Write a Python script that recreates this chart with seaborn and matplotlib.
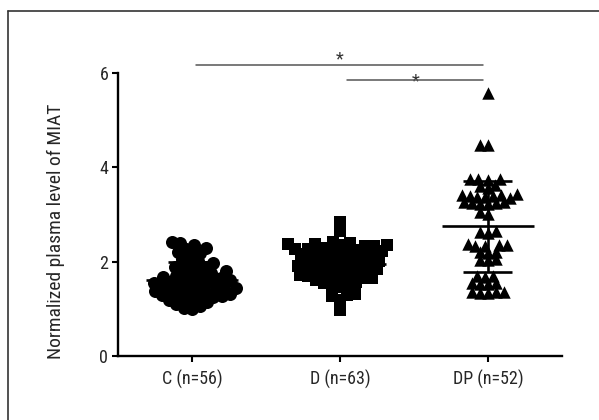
import numpy as np
import pandas as pd
import matplotlib
matplotlib.use("Agg")
import matplotlib.pyplot as plt
from matplotlib import font_manager
from matplotlib.lines import Line2D
import seaborn as sns

# ---- values ----
groups = ["C (n=56)", "D (n=63)", "DP (n=52)"]
markers = ["o", "s", "^"]

c_vals = [2.40, 2.36, 2.41,
          2.30, 2.28,
          2.20, 2.18, 2.15,
          2.05, 2.02, 1.98, 1.96,
          1.90, 1.88, 1.85, 1.83, 1.80,
          1.76, 1.74, 1.72, 1.70, 1.68, 1.66, 1.64,
          1.62, 1.60, 1.58, 1.57, 1.56, 1.54, 1.52, 1.50,
          1.48, 1.47, 1.46, 1.44, 1.42, 1.40, 1.39, 1.38, 1.36, 1.34,
          1.32, 1.30, 1.29, 1.28, 1.26, 1.24, 1.22,
          1.20, 1.17, 1.14, 1.11,
          1.07, 1.03, 1.00]

d_vals = [2.85, 2.65,
          2.42, 2.38, 2.36, 2.34, 2.40, 2.33, 2.37, 2.35,
          2.30, 2.27, 2.25, 2.22, 2.28, 2.24, 2.26, 2.21,
          2.18, 2.15, 2.12, 2.10, 2.08, 2.14, 2.11, 2.16, 2.06,
          2.02, 2.00, 1.98, 1.95, 1.92, 1.97, 1.94, 1.99, 1.90,
          1.88, 1.85, 1.82, 1.80, 1.78, 1.83, 1.86, 1.81, 1.76,
          1.72, 1.70, 1.68, 1.65, 1.62, 1.66, 1.69, 1.63,
          1.58, 1.55, 1.52, 1.50, 1.47,
          1.32, 1.30, 1.27,
          1.20,
          0.98]

dp_vals = [5.57,
           4.48, 4.47,
           3.76, 3.75, 3.74, 3.76,
           3.63, 3.60, 3.57,
           3.42, 3.40, 3.38, 3.41, 3.39, 3.37, 3.43, 3.36,
           3.26, 3.24, 3.22, 3.25, 3.23, 3.27,
           3.05, 3.02,
           2.65, 2.62, 2.64,
           2.36, 2.34, 2.35, 2.33, 2.37,
           2.21, 2.19, 2.20,
           2.05, 2.03, 2.04,
           1.70, 1.68, 1.69,
           1.56, 1.54, 1.55, 1.53,
           1.35, 1.34, 1.36, 1.33, 1.35]

# significance brackets: (from, to, y of line)
sig_pairs = [(0.03, 1.97, 6.17), (1.05, 1.97, 5.85)]

df = pd.DataFrame({
    "group": [groups[0]] * len(c_vals) + [groups[1]] * len(d_vals) + [groups[2]] * len(dp_vals),
    "value": c_vals + d_vals + dp_vals,
})

sns.set_theme(style="ticks")

# pick a narrow sans font if one is around
installed = {f.name for f in font_manager.fontManager.ttflist}
font_name = "DejaVu Sans"
for cand in ["Liberation Sans Narrow", "Roboto Condensed", "Open Sans Condensed", "Roboto"]:
    if cand in installed:
        font_name = cand
        break
plt.rcParams["font.family"] = [font_name, "DejaVu Sans"]

fig = plt.figure(figsize=(5.99, 4.2), dpi=100)
ax = fig.add_axes([0.197, 0.152, 0.741, 0.674])

# swarm layout is computed with a small marker, then markers are enlarged (they overlap like the original)
big = {"o": 88, "s": 85, "^": 80}
swarm_size = {"o": 5.8, "s": 5.8, "^": 5.4}
new_colls = []
for g, m in zip(groups, markers):
    n_before = len(ax.collections)
    sns.swarmplot(data=df[df["group"] == g], x="group", y="value", order=groups,
                  marker=m, color="black", size=swarm_size[m], linewidth=0, ax=ax, zorder=2)
    new_colls += [(c, m) for c in ax.collections[n_before:]]

ax.set_xlim(-0.5, 2.5)
ax.set_ylim(0, 6)
fig.canvas.draw()
for coll, m in new_colls:
    if "draw" in coll.__dict__:
        del coll.draw
    coll.set_sizes([big[m]])
    coll.set_clip_on(False)

# mean and SD
for i, vals in enumerate([c_vals, d_vals, dp_vals]):
    mu = np.mean(vals)
    sd = np.std(vals, ddof=1)
    ax.hlines(mu, i - 0.31, i + 0.31, color="black", lw=1.9, zorder=5)
    ax.vlines(i, mu - sd, mu + sd, color="black", lw=1.9, zorder=5)
    ax.hlines([mu - sd, mu + sd], i - 0.165, i + 0.165, color="black", lw=1.9, zorder=5)

# significance lines
star_offsets = [0.12, -0.02]
for (x0, x1, yy), off in zip(sig_pairs, star_offsets):
    ax.plot([x0, x1], [yy, yy], color="#555555", lw=1.1, clip_on=False, zorder=6)
    ax.text((x0 + x1) / 2, yy + off, "*", ha="center", va="center",
            fontsize=13, color="#333333", clip_on=False)

ax.set_xlabel("")
ax.set_ylabel("Normalized plasma level of MIAT", fontsize=14)
ax.yaxis.set_label_coords(-0.12, 0.44)
ax.set_yticks([0, 2, 4, 6])
ax.tick_params(axis="both", labelsize=13, length=4, width=1.5, color="black", pad=3)
ax.tick_params(axis="x", labelsize=13, pad=6)
for s in ["left", "bottom"]:
    ax.spines[s].set_linewidth(1.7)
    ax.spines[s].set_color("black")
ax.spines["top"].set_visible(False)
ax.spines["right"].set_visible(False)

# thin frame at the top and left of the panel
fig.add_artist(Line2D([8 / 599, 8 / 599], [0, 1 - 11 / 420], color="#333333", lw=1.2))
fig.add_artist(Line2D([8 / 599, 1], [1 - 11 / 420, 1 - 11 / 420], color="#333333", lw=1.2))

fig.savefig("out.png", dpi=100)
plt.close(fig)
